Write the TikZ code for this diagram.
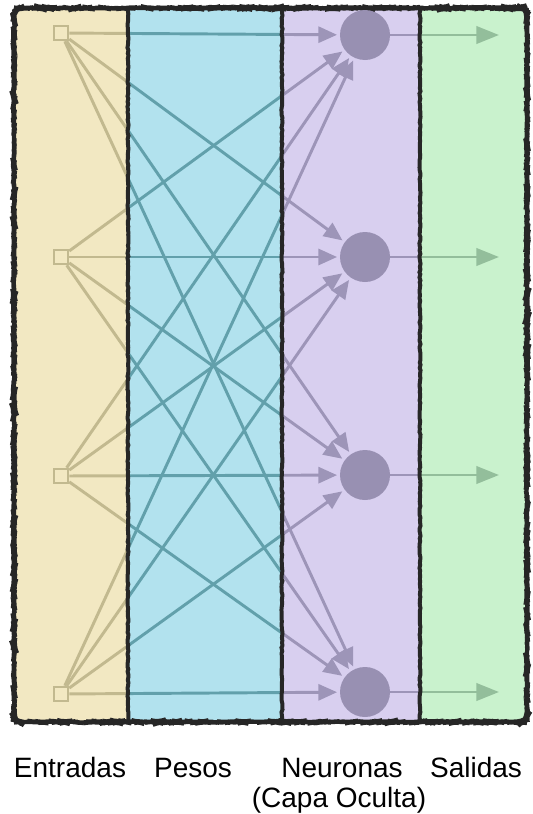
\documentclass[tikz,border=0pt]{standalone}
\usepackage{fontspec}
\setmainfont{Liberation Sans}
\usetikzlibrary{arrows.meta,decorations.pathmorphing}

\definecolor{entradas}{HTML}{F2E8C2}
\definecolor{pesos}{HTML}{B2E2EE}
\definecolor{neuronas}{HTML}{D8CFEF}
\definecolor{salidas}{HTML}{C9F2CD}
\definecolor{relleno}{HTML}{9890B2}
\definecolor{lineaentradas}{HTML}{C2B98F}
\definecolor{lineapesos}{HTML}{62A0AB}
\definecolor{lineaneuronas}{HTML}{9D95B8}
\definecolor{lineasalidas}{HTML}{93BE9B}

% todas las conexiones, con el color de cada columna
\newcommand{\conexiones}[1]{%
  \draw[peso, #1] (x1) -- (n1);
  \draw[peso, #1] (x1) -- (n2);
  \draw[peso, #1] (x1) -- (n3);
  \draw[peso, #1] (x1) -- (n4);
  \draw[peso, #1] (x2) -- (n1);
  \draw[peso, #1] (x2) -- (n2);
  \draw[peso, #1] (x2) -- (n3);
  \draw[peso, #1] (x2) -- (n4);
  \draw[peso, #1] (x3) -- (n1);
  \draw[peso, #1] (x3) -- (n2);
  \draw[peso, #1] (x3) -- (n3);
  \draw[peso, #1] (x3) -- (n4);
  \draw[peso, #1] (x4) -- (n1);
  \draw[peso, #1] (x4) -- (n2);
  \draw[peso, #1] (x4) -- (n3);
  \draw[peso, #1] (x4) -- (n4);
  \draw[salida, #1] (n1) -- (s1);
  \draw[salida, #1] (n2) -- (s2);
  \draw[salida, #1] (n3) -- (s3);
  \draw[salida, #1] (n4) -- (s4);}

\begin{document}
\begin{tikzpicture}[x=0.75pt, y=-0.75pt,
  entrada/.style={line width=1.4pt, minimum size=11pt, inner sep=0pt},
  neurona/.style={circle, minimum size=37.5pt, inner sep=0pt},
  peso/.style={line width=2.2pt, shorten >=2pt, -{Triangle[length=14pt, width=12pt]}},
  salida/.style={line width=2.2pt, -{Triangle[length=17pt, width=13pt]}},
  borde/.style={draw=black!85, line width=3pt, decorate,
    decoration={random steps, segment length=2pt, amplitude=0.4pt}},
  rotulo/.style={font=\fontsize{21}{24}\selectfont, inner sep=0pt}]
  \useasboundingbox (0,0) rectangle (532,814);
  \begin{scope}
    \clip[rounded corners=6pt] (14,8) rectangle (527,722);
    \fill[entradas] (14,8) rectangle (128,722);
    \fill[pesos] (128,8) rectangle (282,722);
    \fill[neuronas] (282,8) rectangle (420,722);
    \fill[salidas] (420,8) rectangle (527,722);
  \end{scope}
  \node[entrada] (x1) at (61, 33) {};
  \node[entrada] (x2) at (61, 257) {};
  \node[entrada] (x3) at (61, 476) {};
  \node[entrada] (x4) at (61, 694) {};
  \node[neurona] (n1) at (365, 35) {};
  \node[neurona] (n2) at (365, 257) {};
  \node[neurona] (n3) at (365, 475) {};
  \node[neurona] (n4) at (365, 692) {};
  \coordinate (s1) at (499, 35);
  \coordinate (s2) at (499, 257);
  \coordinate (s3) at (499, 475);
  \coordinate (s4) at (499, 692);
  \begin{scope}
    \clip (0,0) rectangle (128,740);
    \conexiones{draw=lineaentradas}
  \end{scope}
  \begin{scope}
    \clip (128,0) rectangle (282,740);
    \conexiones{draw=lineapesos}
  \end{scope}
  \begin{scope}
    \clip (282,0) rectangle (420,740);
    \conexiones{draw=lineaneuronas}
  \end{scope}
  \begin{scope}
    \clip (420,0) rectangle (532,740);
    \conexiones{draw=lineasalidas}
  \end{scope}
  \node[entrada, draw=lineaentradas, fill=entradas] at (x1) {};
  \node[entrada, draw=lineaentradas, fill=entradas] at (x2) {};
  \node[entrada, draw=lineaentradas, fill=entradas] at (x3) {};
  \node[entrada, draw=lineaentradas, fill=entradas] at (x4) {};
  % bordes de las columnas
  \draw[borde, rounded corners=6pt] (14,8) rectangle (527,722);
  \draw[borde] (128,8) -- (128,722);
  \draw[borde] (282,8) -- (282,722);
  \draw[borde] (420,8) -- (420,722);
  \fill[relleno] (n1) circle[radius=25];
  \fill[relleno] (n2) circle[radius=25];
  \fill[relleno] (n3) circle[radius=25];
  \fill[relleno] (n4) circle[radius=25];
  \node[rotulo, anchor=base] (lentradas) at (70, 777) {Entradas};
  \node[rotulo, anchor=base] (lpesos) at (193, 777) {Pesos};
  \node[rotulo, anchor=base] (lneuronas) at (342, 777) {Neuronas};
  \node[rotulo, anchor=base] (lcapa) at (339, 807) {(Capa Oculta)};
  \node[rotulo, anchor=base] (lsalidas) at (476, 777) {Salidas};
\end{tikzpicture}
\end{document}
